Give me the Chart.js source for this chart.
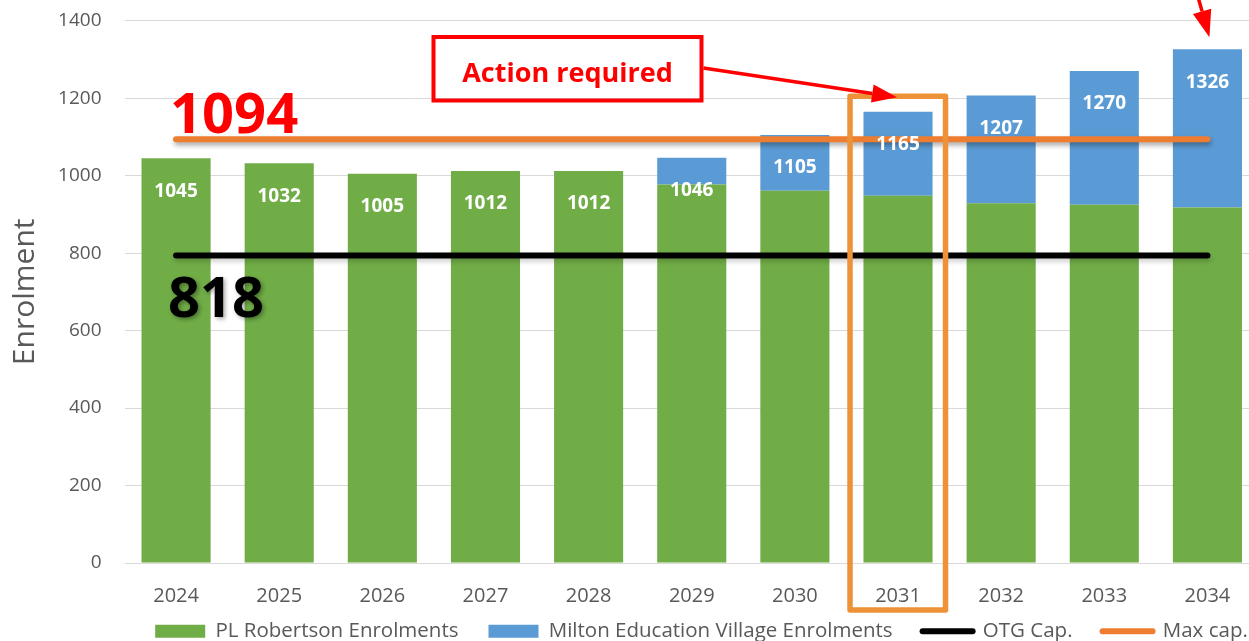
<!DOCTYPE html>
<html><head><meta charset="utf-8">
<script src="https://cdn.jsdelivr.net/npm/chart.js@4.4.1/dist/chart.umd.min.js"></script>
<style>
html,body{margin:0;padding:0;overflow:hidden;background:#fff;width:1249px;height:641px}
#wrap{position:relative;width:1259px;height:641px}
</style></head>
<body><div id="wrap"><canvas id="c" width="1259" height="641"></canvas></div>
<script>
const years = ['2024','2025','2026','2027','2028','2029','2030','2031','2032','2033','2034'];
const plRobertson = [1045, 1032, 1005, 1012, 1012, 977, 961, 948, 929, 925, 918];
const miltonVillage = [0, 0, 0, 0, 0, 69, 144, 217, 278, 345, 408];
const otgCap = [794, 794, 794, 794, 794, 794, 794, 794, 794, 794, 794];
const maxCap = [1094, 1094, 1094, 1094, 1094, 1094, 1094, 1094, 1094, 1094, 1094];
const yTicks = [0, 200, 400, 600, 800, 1000, 1200, 1400];
const otgLabel = '818';
const maxLabel = '1094';
const calloutText = 'Action required';
const highlightIndex = 7;
const seriesNames = ['PL Robertson Enrolments', 'Milton Education Village Enrolments', 'OTG Cap.', 'Max cap.'];

const GREEN = '#70AD47', BLUE = '#5B9BD5', ORANGE = '#ED7D31', BOXORANGE = '#EE9237', RED = '#FF0000', GREY = '#595959';

function arrow(ctx, x1, y1, x2, y2, hl, hw, lw) {
  const a = Math.atan2(y2 - y1, x2 - x1);
  const bx = x2 - hl * Math.cos(a), by = y2 - hl * Math.sin(a);
  ctx.lineWidth = lw;
  ctx.beginPath(); ctx.moveTo(x1, y1); ctx.lineTo(bx, by); ctx.stroke();
  ctx.beginPath(); ctx.moveTo(x2, y2);
  ctx.lineTo(bx + hw * Math.sin(a), by - hw * Math.cos(a));
  ctx.lineTo(bx - hw * Math.sin(a), by + hw * Math.cos(a));
  ctx.closePath(); ctx.fill();
}

const shadowPlugin = {
  id: 'lineShadow',
  beforeDatasetDraw(chart, args) {
    const ds = chart.data.datasets[args.index];
    if (ds.type === 'line') {
      chart.ctx.save();
      chart.ctx.shadowColor = ds.label === seriesNames[3] ? 'rgba(0,0,0,0.35)' : 'rgba(0,0,0,0.2)';
      chart.ctx.shadowBlur = 5; chart.ctx.shadowOffsetX = 1; chart.ctx.shadowOffsetY = 3;
    }
  },
  afterDatasetDraw(chart, args) {
    const ds = chart.data.datasets[args.index];
    if (ds.type === 'line') chart.ctx.restore();
  }
};

const totalsPlugin = {
  id: 'totals',
  afterDatasetsDraw(chart) {
    const {ctx, scales: {x, y}} = chart;
    ctx.save();
    ctx.font = 'bold 19px "Open Sans"';
    ctx.fillStyle = '#ffffff'; ctx.textAlign = 'center'; ctx.textBaseline = 'middle';
    years.forEach((yr, i) => {
      const total = plRobertson[i] + miltonVillage[i];
      ctx.fillText(String(total), x.getPixelForValue(i), y.getPixelForValue(total) + 33);
    });
    ctx.restore();
  }
};

const annotPlugin = {
  id: 'annot',
  afterDraw(chart) {
    const {ctx, scales: {x, y}, chartArea} = chart;
    ctx.save();
    const x0 = x.getPixelForValue(0) - 6;
    ctx.textAlign = 'left'; ctx.textBaseline = 'alphabetic';
    ctx.font = 'bold 56px "Open Sans"';
    ctx.fillStyle = RED;
    ctx.fillText(maxLabel, x0, y.getPixelForValue(maxCap[0]) - 6);
    ctx.save();
    ctx.shadowColor = 'rgba(0,0,0,0.35)'; ctx.shadowBlur = 4; ctx.shadowOffsetX = 2; ctx.shadowOffsetY = 2;
    ctx.fillStyle = '#000';
    ctx.fillText(otgLabel, x0 - 2, y.getPixelForValue(otgCap[0]) + 62);
    ctx.restore();

    // highlight box around one year
    const cx = x.getPixelForValue(highlightIndex);
    const tot = plRobertson[highlightIndex] + miltonVillage[highlightIndex];
    const top = y.getPixelForValue(tot) - 15.5;
    const bottom = chartArea.bottom + 47;
    ctx.strokeStyle = BOXORANGE; ctx.lineWidth = 5.5; ctx.lineJoin = 'round';
    ctx.strokeRect(cx - 48, top, 95.5, bottom - top);

    // callout
    ctx.strokeStyle = RED; ctx.fillStyle = RED; ctx.lineWidth = 4; ctx.lineJoin = 'miter';
    ctx.strokeRect(433.5, 37, 268, 63.5);
    ctx.font = 'bold 27px "Open Sans"';
    ctx.textAlign = 'center';
    ctx.fillText(calloutText, 567.5, 82);
    arrow(ctx, 703.5, 68, cx - 1, top + 1, 25, 9, 3.5);

    const cx2 = x.getPixelForValue(years.length - 1);
    const tot2 = plRobertson[years.length - 1] + miltonVillage[years.length - 1];
    arrow(ctx, cx2 - 10, -5, cx2 + 2, y.getPixelForValue(tot2) - 12, 27, 9.5, 3.5);
    ctx.restore();
  }
};

new Chart(document.getElementById('c'), {
  data: {
    labels: years,
    datasets: [
      {type: 'bar', label: seriesNames[0], data: plRobertson, backgroundColor: GREEN, stack: 'enrol', order: 2, categoryPercentage: 0.67, barPercentage: 1},
      {type: 'bar', label: seriesNames[1], data: miltonVillage, backgroundColor: BLUE, stack: 'enrol', order: 2, categoryPercentage: 0.67, barPercentage: 1},
      {type: 'line', label: seriesNames[2], data: otgCap, borderColor: '#000', backgroundColor: '#000', borderWidth: 6, pointRadius: 0, borderCapStyle: 'round', stack: 'otg', order: 1},
      {type: 'line', label: seriesNames[3], data: maxCap, borderColor: ORANGE, backgroundColor: ORANGE, borderWidth: 6, pointRadius: 0, borderCapStyle: 'round', stack: 'max', order: 0}
    ]
  },
  options: {
    responsive: false,
    animation: false,
    layout: {padding: {top: 20.7, left: 0, right: 0, bottom: 0}},
    plugins: {
      tooltip: {enabled: false},
      legend: {
        position: 'bottom',
        maxHeight: 33,
        labels: {
          usePointStyle: true, pointStyleWidth: 50, boxHeight: 13, padding: 30,
          font: {family: 'Open Sans', size: 20.5}, color: GREY,
          generateLabels(chart) {
            return chart.data.datasets.map((ds, i) => ({
              text: ds.label,
              fillStyle: ds.type === 'line' ? ds.borderColor : ds.backgroundColor,
              strokeStyle: ds.type === 'line' ? ds.borderColor : ds.backgroundColor,
              lineWidth: ds.type === 'line' ? 6 : 0,
              lineCap: 'round',
              pointStyle: ds.type === 'line' ? 'line' : 'rect',
              hidden: false, datasetIndex: i, fontColor: GREY
            }));
          }
        }
      }
    },
    scales: {
      x: {
        stacked: true,
        grid: {display: false}, border: {display: false},
        ticks: {font: {family: 'Open Sans', size: 20}, color: GREY, padding: 13},
        afterFit(scale) { scale.height = 45; }
      },
      y: {
        stacked: true, min: 0, max: 1400,
        afterBuildTicks(scale) { scale.ticks = yTicks.map(v => ({value: v})); },
        grid: {color: '#D9D9D9', drawTicks: false}, border: {display: false},
        ticks: {font: {family: 'Open Sans', size: 19}, color: GREY, padding: 23, callback: (v) => String(v)},
        title: {display: true, text: 'Enrolment', font: {family: 'Open Sans', size: 30}, color: GREY, padding: {top: 7, bottom: 0}},
        afterFit(scale) { scale.width = 124.5; scale.paddingTop = 0; scale.paddingBottom = 0; }
      }
    }
  },
  plugins: [shadowPlugin, totalsPlugin, annotPlugin, {
    id: 'legendShift',
    afterLayout(chart) {
      const L = chart.legend;
      L.left += 72; L.right += 72; L.top -= 17;
    }
  }]
});
</script>
</body></html>
